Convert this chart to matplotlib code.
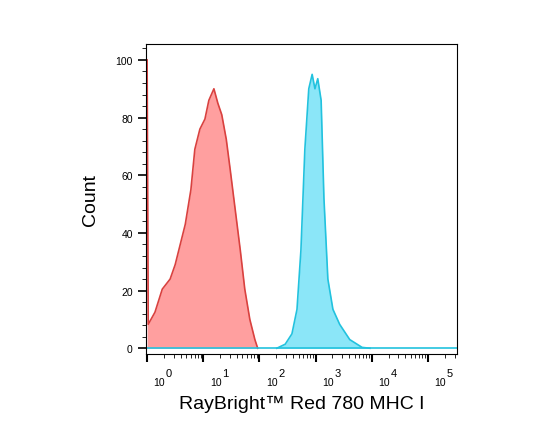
import numpy as np
import matplotlib.pyplot as plt

plt.rcParams['font.family'] = ['Liberation Sans', 'DejaVu Sans']

# decade positions (log10 of fluorescence) and counts
red_x = np.array([0.0, 0.0, 0.02, 0.14, 0.27, 0.41, 0.5, 0.59, 0.68, 0.78, 0.85, 0.94,
                  1.03, 1.1, 1.19, 1.26, 1.33, 1.41, 1.48, 1.57, 1.66, 1.74, 1.83, 1.92, 1.97])
red_y = np.array([100, 100, 8.3, 12.5, 20.5, 24, 29, 36, 43, 55, 69, 76,
                  79.5, 86, 90, 85, 81, 72.5, 62, 48, 34, 20.5, 10, 3, 0])
cyan_x = np.array([2.31, 2.46, 2.58, 2.67, 2.74, 2.81, 2.88, 2.94, 2.99, 3.04, 3.10,
                   3.15, 3.22, 3.31, 3.43, 3.61, 3.83, 3.97])
cyan_y = np.array([0, 1.4, 5, 13.5, 34, 69, 90, 95, 90, 93.5, 86,
                   52, 24, 13.5, 8.3, 3, 0.3, 0])
yticks = [0, 20, 40, 60, 80, 100]
decades = [0, 1, 2, 3, 4, 5]

fig = plt.figure(figsize=(5.48, 4.39), dpi=100)
ax = fig.add_axes([0.2664, 0.1913, 0.5675, 0.706])

ax.fill_between(red_x, red_y, color="#ff9f9f", lw=0)
ax.plot(red_x, red_y, color="#d9413f", lw=1.2)
ax.fill_between(cyan_x, cyan_y, color="#8be6f8", lw=0)
ax.plot(cyan_x, cyan_y, color="#22c2de", lw=1.2)
ax.plot([0, 5.6], [0, 0], color="#22c2de", lw=1.2)

ax.set_xlim(-0.02, 5.52)
ax.set_ylim(-2, 105.5)

ax.set_yticks(yticks)
ax.set_yticklabels([str(v) for v in yticks], fontsize=7.5)
ax.set_yticks(np.arange(0, 105, 4), minor=True)
ax.tick_params(axis="y", which="major", length=6, width=1.2)
ax.tick_params(axis="y", which="minor", length=3)

ax.set_xticks(decades)
ax.set_xticklabels([])
minors = [d + np.log10(m) for d in range(0, 6) for m in range(2, 10) if d + np.log10(m) < 5.52]
ax.set_xticks(minors, minor=True)
ax.tick_params(axis="x", which="major", length=6, width=1.5)
ax.tick_params(axis="x", which="minor", length=3)
for d in decades:
    ax.text(d + 0.22, -0.075, "10", transform=ax.get_xaxis_transform(),
            ha="center", va="top", fontsize=7.5)
    ax.text(d + 0.39, -0.045, str(d), transform=ax.get_xaxis_transform(),
            ha="center", va="top", fontsize=8)

ax.set_ylabel("Count", fontsize=14, labelpad=12)
ax.set_xlabel("RayBright\u2122 Red 780 MHC I", fontsize=14, labelpad=20)

fig.savefig("out.png", dpi=100)
